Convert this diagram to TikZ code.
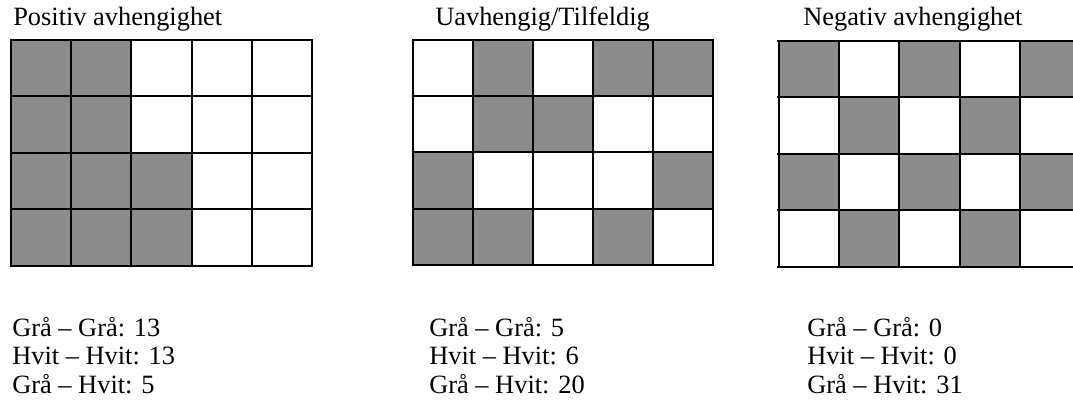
\documentclass[tikz,border=0pt]{standalone}
\usepackage{fontspec}
\setmainfont{Liberation Serif}
\definecolor{cellgray}{RGB}{140,140,140}
\begin{document}
\begin{tikzpicture}[x=0.75pt,y=-0.75pt,
  gridline/.style={line width=1.5pt,black,line cap=rect},
  graycell/.style={fill=cellgray},
  lbl/.style={anchor=base west,inner sep=0pt,font=\fontsize{19.8}{21.4}\selectfont}]
\clip (0,0) rectangle (1073,400);
\fill[white] (0,0) rectangle (1073,400);
% ---------- grid 1 ----------
\foreach \c/\r in {0/0,1/0,0/1,1/1,0/2,1/2,2/2,0/3,1/3,2/3}
  \fill[graycell] ({11+\c*60.2},{40+\r*56.4}) rectangle ++(60.2,56.4);
\foreach \c in {0,...,5} \draw[gridline] ({11+\c*60.2},40) -- ({11+\c*60.2},265.6);
\foreach \r in {0,...,4} \draw[gridline] (11,{40+\r*56.4}) -- (312,{40+\r*56.4});
% ---------- grid 2 ----------
\foreach \c/\r in {1/0,3/0,4/0,1/1,2/1,0/2,4/2,0/3,1/3,3/3}
  \fill[graycell] ({413+\c*60},{40+\r*56.2}) rectangle ++(60,56.2);
\foreach \c in {0,...,5} \draw[gridline] ({413+\c*60},40) -- ({413+\c*60},264.8);
\foreach \r in {0,...,4} \draw[gridline] (413,{40+\r*56.2}) -- (713,{40+\r*56.2});
% ---------- grid 3 ----------
\foreach \c/\r in {0/0,2/0,4/0,1/1,3/1,0/2,2/2,4/2,1/3,3/3}
  \fill[graycell] ({779+\c*60.2},{40.5+\r*56.5}) rectangle ++(60.2,56.5);
\foreach \c in {0,...,4} \draw[gridline] ({779+\c*60.2},40.5) -- ({779+\c*60.2},266.5);
\foreach \r in {0,...,4} \draw[gridline] (778,{40.5+\r*56.5}) -- (1080,{40.5+\r*56.5});
% ---------- titles ----------
\node[lbl] (t1) at (13,25) {Positiv avhengighet};
\node[lbl] (t2) at (435,25) {Uavhengig/Tilfeldig};
\node[lbl] (t3) at (803,25) {Negativ avhengighet};
% ---------- counts ----------
\node[lbl] (a1) at (12,336) {Grå – Grå: 13};
\node[lbl] (b1) at (12,364.5) {Hvit – Hvit: 13};
\node[lbl] (c1) at (12,393) {Grå – Hvit: 5};
\node[lbl] (a2) at (429,336) {Grå – Grå: 5};
\node[lbl] (b2) at (429,364.5) {Hvit – Hvit: 6};
\node[lbl] (c2) at (429,393) {Grå – Hvit: 20};
\node[lbl] (a3) at (807,336) {Grå – Grå: 0};
\node[lbl] (b3) at (807,364.5) {Hvit – Hvit: 0};
\node[lbl] (c3) at (807,393) {Grå – Hvit: 31};
\end{tikzpicture}
\end{document}
